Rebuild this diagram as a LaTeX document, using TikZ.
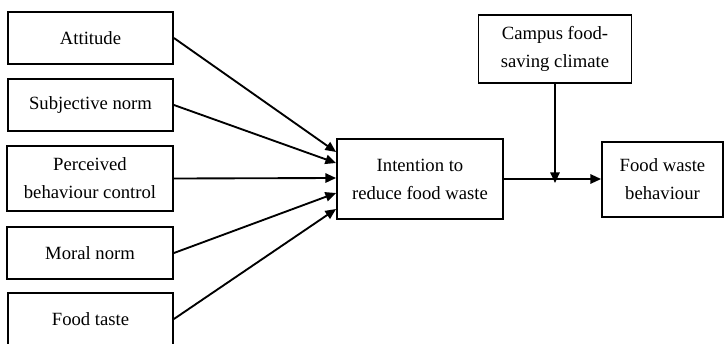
\documentclass[tikz,border=0pt]{standalone}
\usepackage{fontspec}
\setmainfont{Liberation Serif}
\usetikzlibrary{arrows.meta,calc}

\tikzset{
  varbox/.style={draw, line width=1.4pt, align=center, inner sep=0.75pt,
    font=\fontsize{14}{21}\selectfont},
  pathto/.style={line width=1.4pt, -{Triangle[length=8pt,width=7pt]}}
}

\begin{document}
\begin{tikzpicture}[x=0.75pt,y=0.75pt,yscale=-1,xscale=1]
\clip (0,0) rectangle (724,343);

% Predictors
\node [varbox, minimum width=123.75pt, minimum height=39pt] (att) at (90.5,38) {Attitude};
\node [varbox, minimum width=123.75pt, minimum height=39pt] (subj) at (90.5,105) {Subjective norm};
\node [varbox, minimum width=124.5pt, minimum height=48.75pt] (pbc) at (90,178.5) {Perceived\\behaviour control};
\node [varbox, minimum width=124.5pt, minimum height=39pt] (moral) at (90,253) {Moral norm};
\node [varbox, minimum width=123.75pt, minimum height=39pt] (taste) at (90.5,319) {Food taste};

% Intention, moderator and behaviour
\node [varbox, minimum width=124.5pt, minimum height=60pt] (intent) at (420,179) {Intention to\\reduce food waste};
\node [varbox, minimum width=114.75pt, minimum height=51pt] (campus) at (555,49) {Campus food-\\saving climate};
\node [varbox, minimum width=90.75pt, minimum height=56.25pt] (behav) at (662.5,179.5) {Food waste\\behaviour};

% Paths into intention
\draw [pathto] (att.east) -- ($(intent.west)+(0,-27)$);
\draw [pathto] (subj.east) -- ($(intent.west)+(0,-16)$);
\draw [pathto] (pbc.east) -- ($(intent.west)+(0,-1)$);
\draw [pathto] (moral.east) -- ($(intent.west)+(0,14)$);
\draw [pathto] (taste.east) -- ($(intent.west)+(0,30)$);

% Intention to behaviour, moderated by climate
\draw [pathto] (intent.east) -- (behav.west |- intent.east);
\coordinate (mod) at (campus.south |- intent.east);
\draw [pathto] (campus.south) -- ([yshift=3]mod);

\end{tikzpicture}
\end{document}
